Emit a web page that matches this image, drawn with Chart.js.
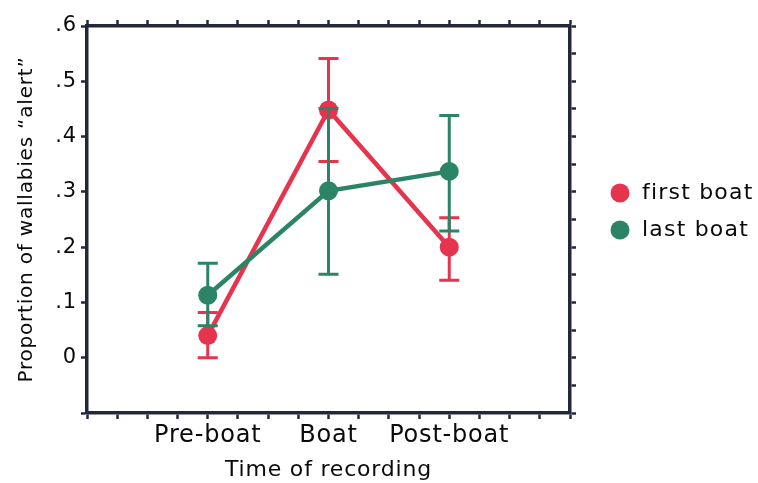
<!DOCTYPE html>
<html>
<head>
<meta charset="utf-8">
<title>Proportion of wallabies alert</title>
<script src="https://cdn.jsdelivr.net/npm/chart.js@4.4.0/dist/chart.umd.min.js"></script>
<style>
  html, body { margin: 0; padding: 0; background: #fff; }
  #wrap { width: 758px; height: 483px; }
</style>
</head>
<body>
<div id="wrap"><canvas id="alertChart" width="758" height="483"></canvas></div>
<script>
// ---------------- data ----------------
const categories = ["Pre-boat", "Boat", "Post-boat"];
const categoryX = [1, 2, 3];

const firstBoat = [0.040, 0.448, 0.200];
const firstBoatUpper = [0.082, 0.541, 0.253];
const firstBoatLower = [0.000, 0.355, 0.140];

const lastBoat = [0.113, 0.302, 0.337];
const lastBoatUpper = [0.171, 0.451, 0.438];
const lastBoatLower = [0.058, 0.151, 0.229];

const xTicks = [0, 0.25, 0.5, 0.75, 1, 1.25, 1.5, 1.75, 2, 2.25, 2.5, 2.75, 3, 3.25, 3.5, 3.75, 4];
const yTicks = [-0.1, -0.05, 0, 0.05, 0.1, 0.15, 0.2, 0.25, 0.3, 0.35, 0.4, 0.45, 0.5, 0.55, 0.6];
const yTickLabels = ["0", ".1", ".2", ".3", ".4", ".5", ".6"];

// ---------------- styles ----------------
const RED = "#e6344e";
const GREEN = "#2c8466";
const AXIS = "#23273b";
const TEXT = "#0a0a0a";
const FONT = "'DejaVu Sans', Verdana, sans-serif";

const toPoints = (vals) => vals.map((v, i) => ({ x: categoryX[i], y: v }));

// error bars, drawn right after each dataset so layering follows datasets
const errorBars = {
  id: "errorBars",
  afterDatasetDraw(chart, args) {
    const ds = chart.data.datasets[args.index];
    if (!ds.upper) return;
    const { ctx, scales: { x, y } } = chart;
    const cap = 10;
    ctx.save();
    ctx.strokeStyle = ds.borderColor;
    ctx.lineWidth = 3;
    ds.data.forEach((p, i) => {
      const px = x.getPixelForValue(p.x);
      const top = y.getPixelForValue(ds.upper[i]);
      const bot = y.getPixelForValue(ds.lower[i]);
      ctx.beginPath();
      ctx.moveTo(px, top);
      ctx.lineTo(px, bot);
      ctx.moveTo(px - cap, top);
      ctx.lineTo(px + cap, top);
      ctx.moveTo(px - cap, bot);
      ctx.lineTo(px + cap, bot);
      ctx.stroke();
    });
    ctx.restore();
  },
};

// letter spacing helps DejaVu look like the wide original face
const spacing = {
  id: "spacing",
  beforeUpdate(chart) { chart.ctx.letterSpacing = "0.8px"; },
  beforeDraw(chart) { chart.ctx.letterSpacing = "0.8px"; },
};

// legend on the right, dots + labels
const sideLegend = {
  id: "sideLegend",
  afterDraw(chart) {
    const { ctx } = chart;
    const rows = [chart.data.datasets[1], chart.data.datasets[0]]; // first boat on top
    ctx.save();
    ctx.letterSpacing = "1.2px";
    ctx.font = "22px " + FONT;
    ctx.textBaseline = "middle";
    ctx.textAlign = "left";
    rows.forEach((ds, i) => {
      const cy = 193 + i * 37;
      ctx.beginPath();
      ctx.arc(620, cy, 9.5, 0, Math.PI * 2);
      ctx.fillStyle = ds.borderColor;
      ctx.fill();
      ctx.fillStyle = TEXT;
      ctx.fillText(ds.label, 642, cy);
    });
    ctx.restore();
  },
};

const gridOpts = {
  drawOnChartArea: false,
  drawTicks: true,
  tickLength: 6,
  tickWidth: 2.5,
  tickColor: AXIS,
};
const borderOpts = { color: AXIS, width: 3.5 };

new Chart(document.getElementById("alertChart"), {
  type: "line",
  data: {
    datasets: [
      {
        label: "last boat",
        data: toPoints(lastBoat),
        upper: lastBoatUpper,
        lower: lastBoatLower,
        borderColor: GREEN,
        backgroundColor: GREEN,
        borderWidth: 4.5,
        pointRadius: 9.5,
        pointBorderWidth: 0,
        pointBackgroundColor: GREEN,
        tension: 0,
      },
      {
        label: "first boat",
        data: toPoints(firstBoat),
        upper: firstBoatUpper,
        lower: firstBoatLower,
        borderColor: RED,
        backgroundColor: RED,
        borderWidth: 4.5,
        pointRadius: 9.5,
        pointBorderWidth: 0,
        pointBackgroundColor: RED,
        tension: 0,
      },
    ],
  },
  options: {
    responsive: false,
    animation: false,
    devicePixelRatio: 1,
    layout: { padding: 0 },
    plugins: { legend: { display: false }, tooltip: { enabled: false } },
    scales: {
      x: {
        type: "linear",
        position: "bottom",
        min: 0,
        max: 4,
        afterBuildTicks: (s) => { s.ticks = xTicks.map((v) => ({ value: v })); },
        afterFit: (s) => { s.height = 70; },
        ticks: {
          autoSkip: false,
          maxRotation: 0,
          padding: 2,
          color: TEXT,
          font: { family: FONT, size: 24 },
          callback: (v) => {
            const i = categoryX.indexOf(v);
            return i >= 0 ? categories[i] : "";
          },
        },
        grid: gridOpts,
        border: borderOpts,
        title: {
          display: true,
          text: "Time of recording",
          color: TEXT,
          font: { family: FONT, size: 22 },
          padding: { top: 0, bottom: 0 },
        },
      },
      x2: {
        type: "linear",
        position: "top",
        min: 0,
        max: 4,
        afterBuildTicks: (s) => { s.ticks = xTicks.map((v) => ({ value: v })); },
        afterFit: (s) => { s.height = 26; },
        ticks: { display: false },
        grid: gridOpts,
        border: borderOpts,
      },
      y: {
        type: "linear",
        position: "left",
        min: -0.1,
        max: 0.6,
        afterBuildTicks: (s) => { s.ticks = yTicks.map((v) => ({ value: v })); },
        afterFit: (s) => { s.width = 87; },
        ticks: {
          padding: 4,
          color: TEXT,
          font: { family: FONT, size: 21 },
          callback: (v) => {
            const k = Math.round(v * 100);
            if (k < 0 || k % 10 !== 0) return "";
            return yTickLabels[k / 10];
          },
        },
        grid: gridOpts,
        border: borderOpts,
        title: {
          display: true,
          text: "Proportion of wallabies \u201Calert\u201D",
          color: TEXT,
          font: { family: FONT, size: 20 },
          padding: { top: 15, bottom: 0 },
        },
      },
      y2: {
        type: "linear",
        position: "right",
        min: -0.1,
        max: 0.6,
        afterBuildTicks: (s) => { s.ticks = yTicks.map((v) => ({ value: v })); },
        afterFit: (s) => { s.width = 188; },
        ticks: { display: false },
        grid: gridOpts,
        border: borderOpts,
      },
    },
  },
  plugins: [spacing, errorBars, sideLegend],
});
</script>
</body>
</html>
